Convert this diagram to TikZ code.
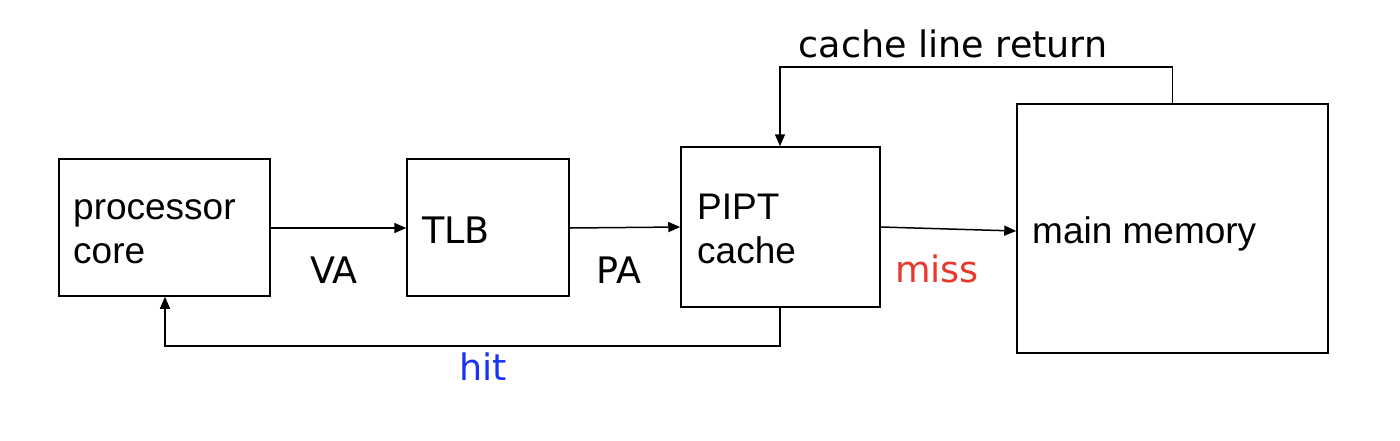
\documentclass[tikz,border=0pt]{standalone}
\usepackage{fontspec}
\setmainfont{Liberation Sans}
\newfontfamily\dvs{DejaVu Sans}
\usetikzlibrary{arrows.meta}
\definecolor{missred}{HTML}{E8392E}
\definecolor{hitblue}{HTML}{1A33F0}
\tikzset{
  blk/.style={draw, line width=1.5pt, minimum width=#1, inner sep=0},
  conn/.style={line width=1.5pt, -{Triangle[length=12pt,width=10pt]}},
  ar/.style={inner sep=0, anchor=base west, font=\fontsize{37}{44}\selectfont, align=left},
  dv/.style={inner sep=0, anchor=base, font=\fontsize{36.5}{45}\selectfont\dvs},
}
\begin{document}
\begin{tikzpicture}[x=1pt,y=-1pt]
\useasboundingbox (0,0) rectangle (1400,440);
\node[blk=211pt, minimum height=137pt] (core) at (164.5,227.5) {};
\node[blk=162pt, minimum height=137pt] (tlb) at (488,227.5) {};
\node[blk=199pt, minimum height=160pt] (cache) at (780.5,227) {};
\node[blk=311pt, minimum height=249pt] (mem) at (1172.5,228.5) {};

\node[ar] (tcore) at (73,263) {processor\\core};
\node[dv, anchor=base west] (ttlb) at (422,243) {TLB};
\node[ar] (tcache) at (697,263) {PIPT\\cache};
\node[ar] (tmem) at (1032,243) {main memory};

\node[dv] (va) at (334,283) {VA};
\node[dv] (pa) at (619,283) {PA};
\node[dv, text=missred] (miss) at (937,282) {miss};
\node[dv, text=hitblue] (hit) at (483,380) {hit};
\node[dv] (clr) at (953,57) {cache line return};

\coordinate (hb) at (780,346);
\coordinate (ct) at (780,67);

\draw[conn] (core.east |- 0,228) -- (tlb.west |- 0,228);
\draw[conn] (tlb.east |- 0,228) -- (cache.west |- 0,227);
\draw[conn] (cache.east |- 0,227) -- (mem.west |- 0,231);
\draw[conn] (cache.south -| hb) -- (hb) -- (hb -| 165,0) -- (core.south -| 165,0);
\draw[conn] (mem.north) -- (mem.north |- ct) -- (ct) -- (cache.north -| ct);
\end{tikzpicture}
\end{document}
